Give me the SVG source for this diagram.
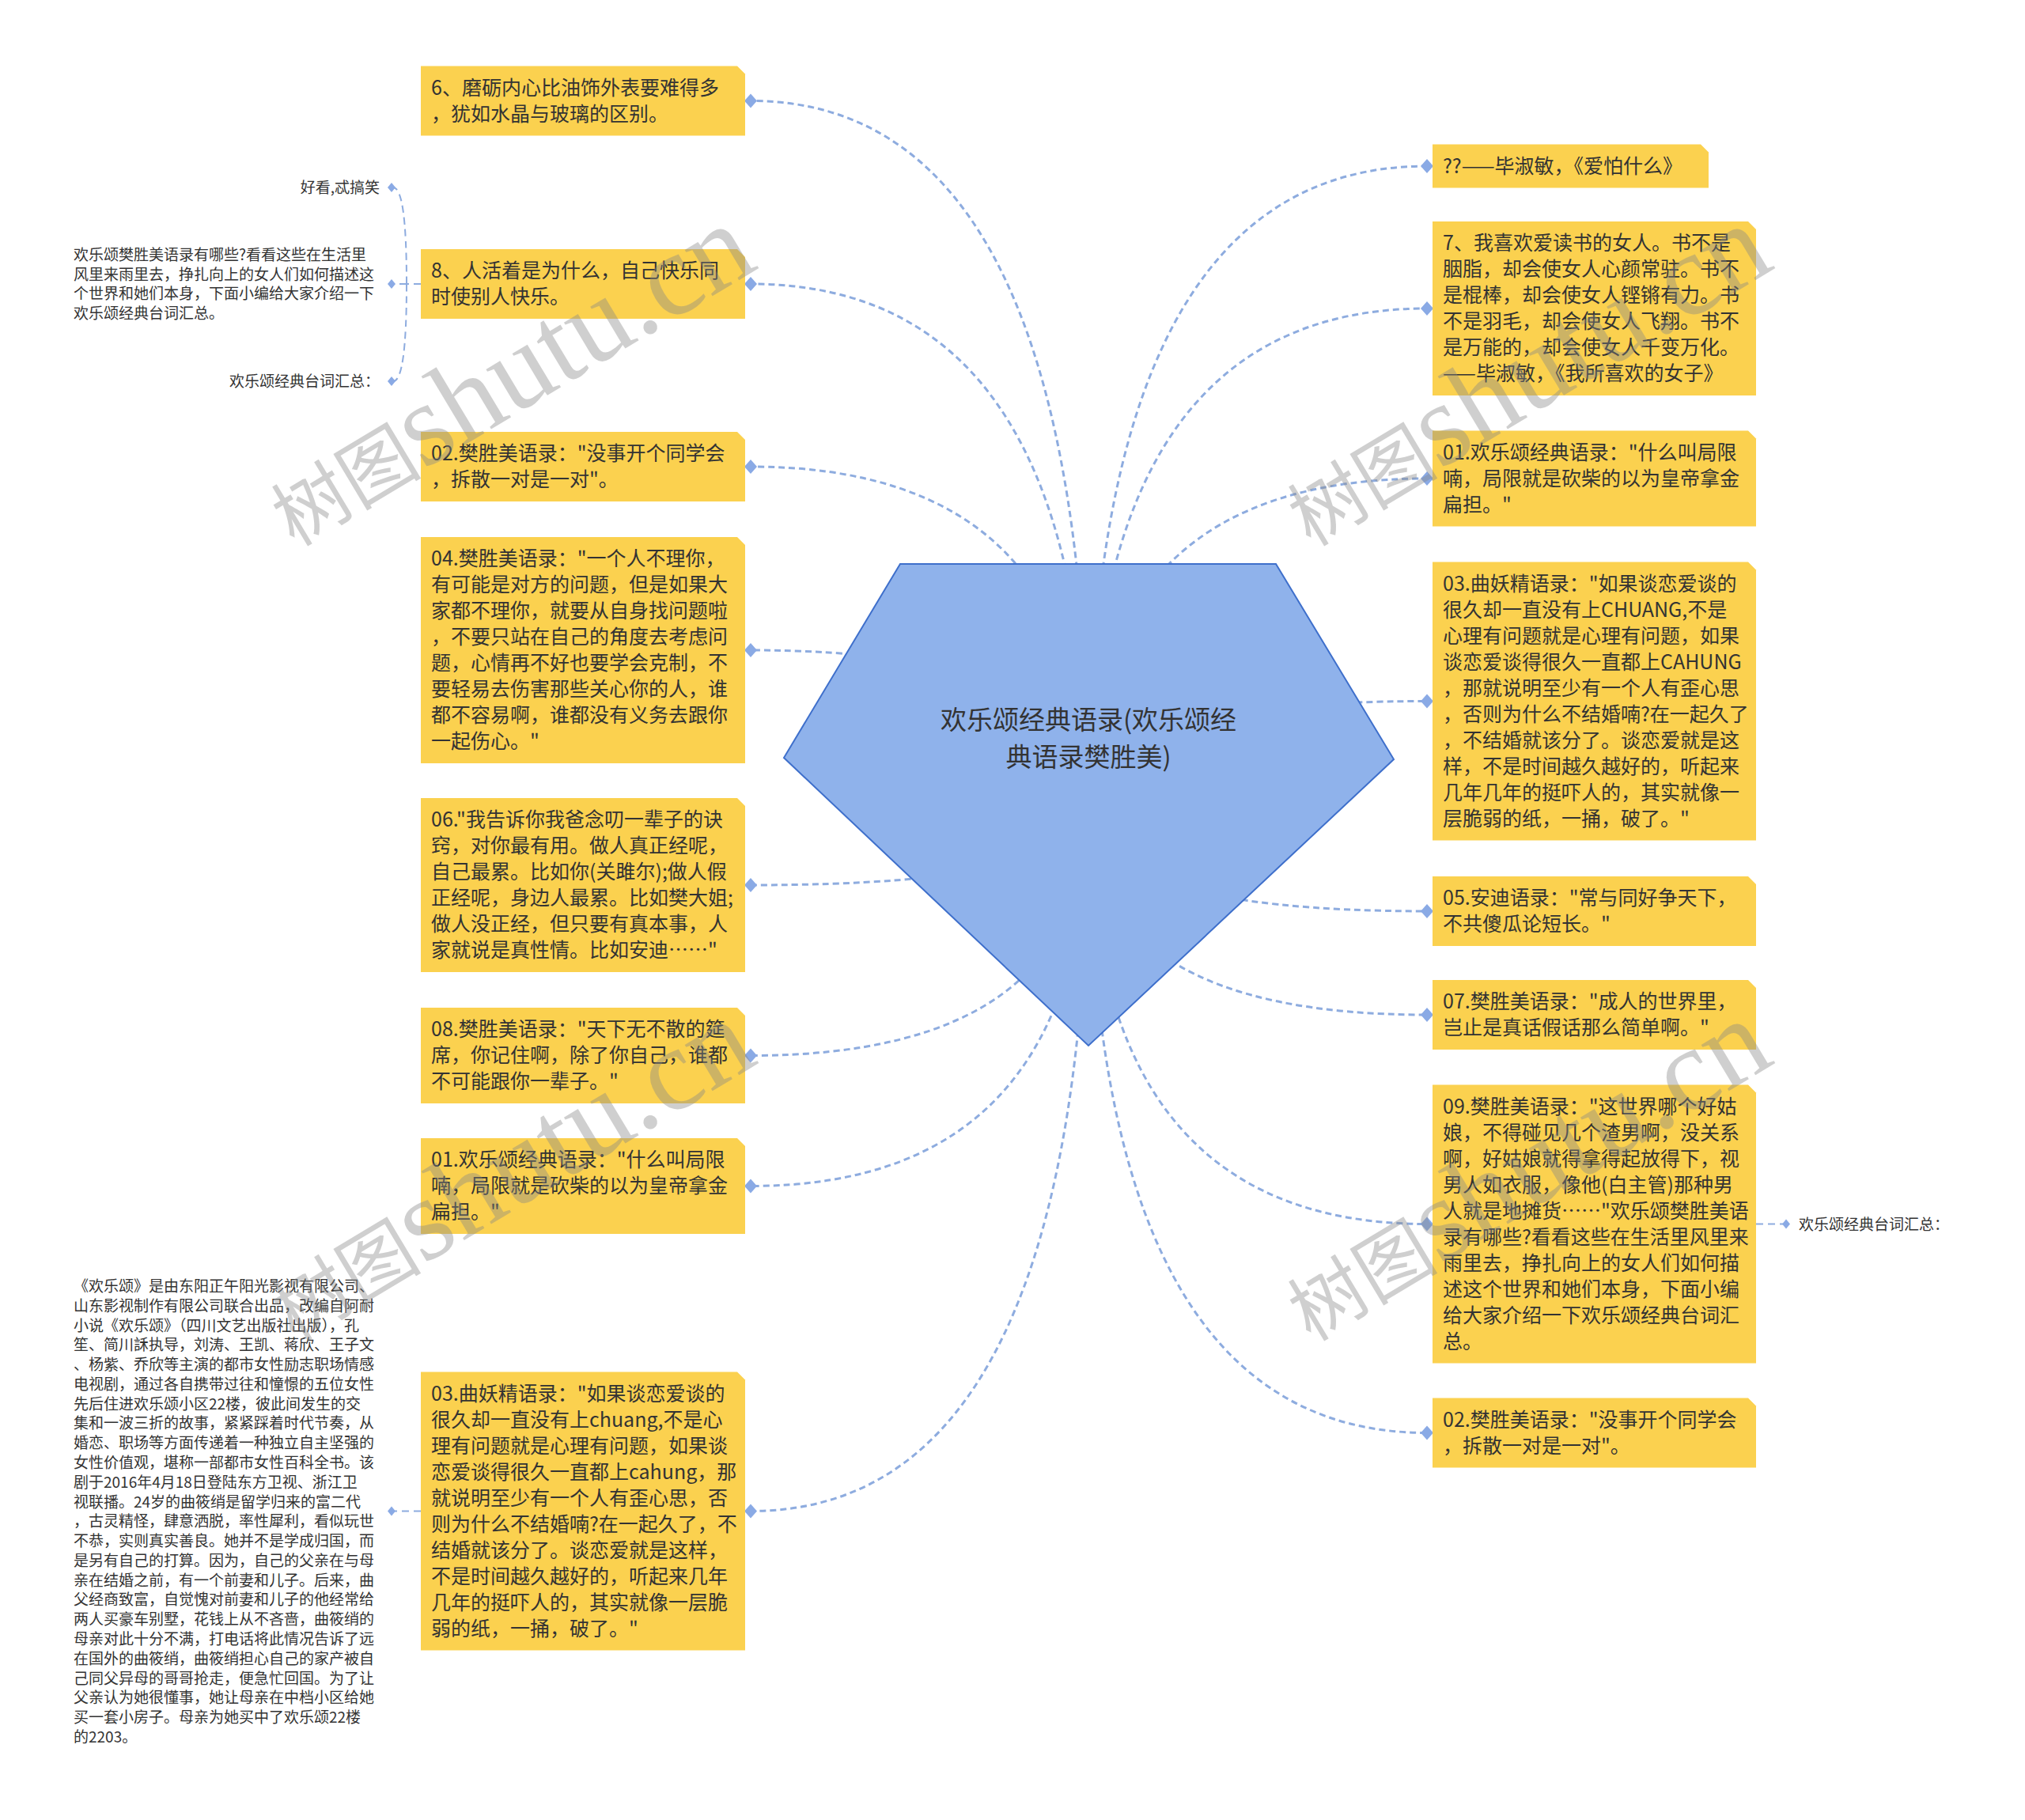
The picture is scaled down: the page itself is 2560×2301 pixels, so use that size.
<svg xmlns="http://www.w3.org/2000/svg" xmlns:xlink="http://www.w3.org/1999/xlink" width="2560" height="2301" viewBox="0 0 2560 2301">
<style>
.bg{fill:#ffffff}
.node{fill:#FBD14F}
.nt{font-family:"Noto Sans CJK SC","Noto Sans",sans-serif;font-size:25px;fill:#333333}
.lt{font-family:"Noto Sans CJK SC","Noto Sans",sans-serif;font-size:19px;fill:#333333}
.rt{font-family:"Noto Sans CJK SC","Noto Sans",sans-serif;font-size:33px;fill:#333333}
.con{fill:none;stroke:#8EACDF;stroke-width:3;stroke-dasharray:8 5}
.lcon{fill:none;stroke:#8EACDF;stroke-width:2;stroke-dasharray:9 6}
.dia{fill:#8AAAE5}
.wm{font-family:"Liberation Serif","Noto Sans CJK SC",serif;fill:#888888;fill-opacity:0.4}
</style>
<defs>
<path id="dm" d="M-8,0 L0,-9 L8,0 L0,9 Z"/>
<path id="ds" d="M-5,0 L0,-6 L5,0 L0,6 Z"/>
</defs>
<rect class="bg" x="0" y="0" width="2560" height="2301"/>

<g id="connectors">
<path class="con" d="M1376,1017 Q1376,127.5 949,127.5"/>
<path class="con" d="M1376,1017 Q1376,359 949,359"/>
<path class="con" d="M1376,1017 Q1376,590 949,590"/>
<path class="con" d="M1376,1017 Q1376,822 949,822"/>
<path class="con" d="M1376,1017 Q1376,1119 949,1119"/>
<path class="con" d="M1376,1017 Q1376,1334.5 949,1334.5"/>
<path class="con" d="M1376,1017 Q1376,1499.5 949,1499.5"/>
<path class="con" d="M1376,1017 Q1376,1910.5 949,1910.5"/>
<path class="con" d="M1376,1017 Q1376,210 1804,210"/>
<path class="con" d="M1376,1017 Q1376,390 1804,390"/>
<path class="con" d="M1376,1017 Q1376,605 1804,605"/>
<path class="con" d="M1376,1017 Q1376,886.5 1804,886.5"/>
<path class="con" d="M1376,1017 Q1376,1152 1804,1152"/>
<path class="con" d="M1376,1017 Q1376,1283 1804,1283"/>
<path class="con" d="M1376,1017 Q1376,1547.5 1804,1547.5"/>
<path class="con" d="M1376,1017 Q1376,1811.5 1804,1811.5"/>
<path class="lcon" d="M532,359 H514"/>
<path class="lcon" d="M514,359 Q514,237 497,237"/>
<path class="lcon" d="M514,359 H497"/>
<path class="lcon" d="M514,359 Q514,482 497,482"/>
<path class="lcon" d="M532,1910.5 H497"/>
<path class="lcon" d="M2220,1547.5 H2256"/>
<use class="dia" href="#dm" x="949" y="127.5"/>
<use class="dia" href="#dm" x="949" y="359"/>
<use class="dia" href="#dm" x="949" y="590"/>
<use class="dia" href="#dm" x="949" y="822"/>
<use class="dia" href="#dm" x="949" y="1119"/>
<use class="dia" href="#dm" x="949" y="1334.5"/>
<use class="dia" href="#dm" x="949" y="1499.5"/>
<use class="dia" href="#dm" x="949" y="1910.5"/>
<use class="dia" href="#dm" x="1804" y="210"/>
<use class="dia" href="#dm" x="1804" y="390"/>
<use class="dia" href="#dm" x="1804" y="605"/>
<use class="dia" href="#dm" x="1804" y="886.5"/>
<use class="dia" href="#dm" x="1804" y="1152"/>
<use class="dia" href="#dm" x="1804" y="1283"/>
<use class="dia" href="#dm" x="1804" y="1547.5"/>
<use class="dia" href="#dm" x="1804" y="1811.5"/>
<use class="dia" href="#ds" x="495" y="237"/>
<use class="dia" href="#ds" x="495" y="359"/>
<use class="dia" href="#ds" x="495" y="482"/>
<use class="dia" href="#ds" x="495" y="1910.5"/>
<use class="dia" href="#ds" x="2258" y="1547.5"/>
</g>

<g id="root">
<path d="M1138,713 L1613,713 L1762,960 L1376,1322 L991,958 Z" fill="#8FB2EB" stroke="#3E6FCB" stroke-width="2"/>
<text class="rt" text-anchor="middle"><tspan x="1376" y="922">欢乐颂经典语录(欢乐颂经</tspan><tspan x="1376" y="969">典语录樊胜美)</tspan></text>
</g>

<g id="n-l6">
<path class="node" d="M532,83.5 H932 L942,93.5 V171.5 H532 Z"/>
<text class="nt"><tspan x="545" y="119.5">6、磨砺内心比油饰外表要难得多</tspan><tspan x="545" dy="33">，犹如水晶与玻璃的区别。</tspan></text>
</g>
<g id="n-l8">
<path class="node" d="M532,315 H932 L942,325 V403 H532 Z"/>
<text class="nt"><tspan x="545" y="351">8、人活着是为什么，自己快乐同</tspan><tspan x="545" dy="33">时使别人快乐。</tspan></text>
</g>
<g id="n-l02">
<path class="node" d="M532,546 H932 L942,556 V634 H532 Z"/>
<text class="nt"><tspan x="545" y="582">02.樊胜美语录："没事开个同学会</tspan><tspan x="545" dy="33">，拆散一对是一对"。</tspan></text>
</g>
<g id="n-l04">
<path class="node" d="M532,679 H932 L942,689 V965 H532 Z"/>
<text class="nt"><tspan x="545" y="715">04.樊胜美语录："一个人不理你，</tspan><tspan x="545" dy="33">有可能是对方的问题，但是如果大</tspan><tspan x="545" dy="33">家都不理你，就要从自身找问题啦</tspan><tspan x="545" dy="33">，不要只站在自己的角度去考虑问</tspan><tspan x="545" dy="33">题，心情再不好也要学会克制，不</tspan><tspan x="545" dy="33">要轻易去伤害那些关心你的人，谁</tspan><tspan x="545" dy="33">都不容易啊，谁都没有义务去跟你</tspan><tspan x="545" dy="33">一起伤心。"</tspan></text>
</g>
<g id="n-l06">
<path class="node" d="M532,1009 H932 L942,1019 V1229 H532 Z"/>
<text class="nt"><tspan x="545" y="1045">06."我告诉你我爸念叨一辈子的诀</tspan><tspan x="545" dy="33">窍，对你最有用。做人真正经呢，</tspan><tspan x="545" dy="33">自己最累。比如你(关雎尔);做人假</tspan><tspan x="545" dy="33">正经呢，身边人最累。比如樊大姐;</tspan><tspan x="545" dy="33">做人没正经，但只要有真本事，人</tspan><tspan x="545" dy="33">家就说是真性情。比如安迪……"</tspan></text>
</g>
<g id="n-l08">
<path class="node" d="M532,1274 H932 L942,1284 V1395 H532 Z"/>
<text class="nt"><tspan x="545" y="1310">08.樊胜美语录："天下无不散的筵</tspan><tspan x="545" dy="33">席，你记住啊，除了你自己，谁都</tspan><tspan x="545" dy="33">不可能跟你一辈子。"</tspan></text>
</g>
<g id="n-l01">
<path class="node" d="M532,1439 H932 L942,1449 V1560 H532 Z"/>
<text class="nt"><tspan x="545" y="1475">01.欢乐颂经典语录："什么叫局限</tspan><tspan x="545" dy="33">喃，局限就是砍柴的以为皇帝拿金</tspan><tspan x="545" dy="33">扁担。"</tspan></text>
</g>
<g id="n-l03">
<path class="node" d="M532,1734.5 H932 L942,1744.5 V2086.5 H532 Z"/>
<text class="nt"><tspan x="545" y="1770.5">03.曲妖精语录："如果谈恋爱谈的</tspan><tspan x="545" dy="33">很久却一直没有上chuang,不是心</tspan><tspan x="545" dy="33">理有问题就是心理有问题，如果谈</tspan><tspan x="545" dy="33">恋爱谈得很久一直都上cahung，那</tspan><tspan x="545" dy="33">就说明至少有一个人有歪心思，否</tspan><tspan x="545" dy="33">则为什么不结婚喃?在一起久了，不</tspan><tspan x="545" dy="33">结婚就该分了。谈恋爱就是这样，</tspan><tspan x="545" dy="33">不是时间越久越好的，听起来几年</tspan><tspan x="545" dy="33">几年的挺吓人的，其实就像一层脆</tspan><tspan x="545" dy="33">弱的纸，一捅，破了。"</tspan></text>
</g>

<g id="n-r00">
<path class="node" d="M1811,182.5 H2150 L2160,192.5 V237.5 H1811 Z"/>
<text class="nt"><tspan x="1824" y="218.5">??——毕淑敏，《爱怕什么》</tspan></text>
</g>
<g id="n-r7">
<path class="node" d="M1811,280 H2210 L2220,290 V500 H1811 Z"/>
<text class="nt"><tspan x="1824" y="316">7、我喜欢爱读书的女人。书不是</tspan><tspan x="1824" dy="33">胭脂，却会使女人心颜常驻。书不</tspan><tspan x="1824" dy="33">是棍棒，却会使女人铿锵有力。书</tspan><tspan x="1824" dy="33">不是羽毛，却会使女人飞翔。书不</tspan><tspan x="1824" dy="33">是万能的，却会使女人千变万化。</tspan><tspan x="1824" dy="33">——毕淑敏，《我所喜欢的女子》</tspan></text>
</g>
<g id="n-r01">
<path class="node" d="M1811,544.5 H2210 L2220,554.5 V665.5 H1811 Z"/>
<text class="nt"><tspan x="1824" y="580.5">01.欢乐颂经典语录："什么叫局限</tspan><tspan x="1824" dy="33">喃，局限就是砍柴的以为皇帝拿金</tspan><tspan x="1824" dy="33">扁担。"</tspan></text>
</g>
<g id="n-r03">
<path class="node" d="M1811,710.5 H2210 L2220,720.5 V1062.5 H1811 Z"/>
<text class="nt"><tspan x="1824" y="746.5">03.曲妖精语录："如果谈恋爱谈的</tspan><tspan x="1824" dy="33">很久却一直没有上CHUANG,不是</tspan><tspan x="1824" dy="33">心理有问题就是心理有问题，如果</tspan><tspan x="1824" dy="33">谈恋爱谈得很久一直都上CAHUNG</tspan><tspan x="1824" dy="33">，那就说明至少有一个人有歪心思</tspan><tspan x="1824" dy="33">，否则为什么不结婚喃?在一起久了</tspan><tspan x="1824" dy="33">，不结婚就该分了。谈恋爱就是这</tspan><tspan x="1824" dy="33">样，不是时间越久越好的，听起来</tspan><tspan x="1824" dy="33">几年几年的挺吓人的，其实就像一</tspan><tspan x="1824" dy="33">层脆弱的纸，一捅，破了。"</tspan></text>
</g>
<g id="n-r05">
<path class="node" d="M1811,1108 H2210 L2220,1118 V1196 H1811 Z"/>
<text class="nt"><tspan x="1824" y="1144">05.安迪语录："常与同好争天下，</tspan><tspan x="1824" dy="33">不共傻瓜论短长。"</tspan></text>
</g>
<g id="n-r07">
<path class="node" d="M1811,1239 H2210 L2220,1249 V1327 H1811 Z"/>
<text class="nt"><tspan x="1824" y="1275">07.樊胜美语录："成人的世界里，</tspan><tspan x="1824" dy="33">岂止是真话假话那么简单啊。"</tspan></text>
</g>
<g id="n-r09">
<path class="node" d="M1811,1371.5 H2210 L2220,1381.5 V1723.5 H1811 Z"/>
<text class="nt"><tspan x="1824" y="1407.5">09.樊胜美语录："这世界哪个好姑</tspan><tspan x="1824" dy="33">娘，不得碰见几个渣男啊，没关系</tspan><tspan x="1824" dy="33">啊，好姑娘就得拿得起放得下，视</tspan><tspan x="1824" dy="33">男人如衣服，像他(白主管)那种男</tspan><tspan x="1824" dy="33">人就是地摊货……"欢乐颂樊胜美语</tspan><tspan x="1824" dy="33">录有哪些?看看这些在生活里风里来</tspan><tspan x="1824" dy="33">雨里去，挣扎向上的女人们如何描</tspan><tspan x="1824" dy="33">述这个世界和她们本身，下面小编</tspan><tspan x="1824" dy="33">给大家介绍一下欢乐颂经典台词汇</tspan><tspan x="1824" dy="33">总。</tspan></text>
</g>
<g id="n-r02">
<path class="node" d="M1811,1767.5 H2210 L2220,1777.5 V1855.5 H1811 Z"/>
<text class="nt"><tspan x="1824" y="1803.5">02.樊胜美语录："没事开个同学会</tspan><tspan x="1824" dy="33">，拆散一对是一对"。</tspan></text>
</g>

<g id="leaf-a">
<text class="lt" x="480" y="244" text-anchor="end">好看,忒搞笑</text>
</g>
<g id="leaf-b">
<text class="lt"><tspan x="93" y="329">欢乐颂樊胜美语录有哪些?看看这些在生活里</tspan><tspan x="93" dy="24.5">风里来雨里去，挣扎向上的女人们如何描述这</tspan><tspan x="93" dy="24.5">个世界和她们本身，下面小编给大家介绍一下</tspan><tspan x="93" dy="24.5">欢乐颂经典台词汇总。</tspan></text>
</g>
<g id="leaf-c">
<text class="lt" x="480" y="489" text-anchor="end">欢乐颂经典台词汇总：</text>
</g>
<g id="leaf-d">
<text class="lt"><tspan x="93" y="1633">《欢乐颂》是由东阳正午阳光影视有限公司、</tspan><tspan x="93" dy="24.78">山东影视制作有限公司联合出品，改编自阿耐</tspan><tspan x="93" dy="24.78">小说《欢乐颂》（四川文艺出版社出版），孔</tspan><tspan x="93" dy="24.78">笙、简川訸执导，刘涛、王凯、蒋欣、王子文</tspan><tspan x="93" dy="24.78">、杨紫、乔欣等主演的都市女性励志职场情感</tspan><tspan x="93" dy="24.78">电视剧，通过各自携带过往和憧憬的五位女性</tspan><tspan x="93" dy="24.78">先后住进欢乐颂小区22楼，彼此间发生的交</tspan><tspan x="93" dy="24.78">集和一波三折的故事，紧紧踩着时代节奏，从</tspan><tspan x="93" dy="24.78">婚恋、职场等方面传递着一种独立自主坚强的</tspan><tspan x="93" dy="24.78">女性价值观，堪称一部都市女性百科全书。该</tspan><tspan x="93" dy="24.78">剧于2016年4月18日登陆东方卫视、浙江卫</tspan><tspan x="93" dy="24.78">视联播。24岁的曲筱绡是留学归来的富二代</tspan><tspan x="93" dy="24.78">，古灵精怪，肆意洒脱，率性犀利，看似玩世</tspan><tspan x="93" dy="24.78">不恭，实则真实善良。她并不是学成归国，而</tspan><tspan x="93" dy="24.78">是另有自己的打算。因为，自己的父亲在与母</tspan><tspan x="93" dy="24.78">亲在结婚之前，有一个前妻和儿子。后来，曲</tspan><tspan x="93" dy="24.78">父经商致富，自觉愧对前妻和儿子的他经常给</tspan><tspan x="93" dy="24.78">两人买豪车别墅，花钱上从不吝啬，曲筱绡的</tspan><tspan x="93" dy="24.78">母亲对此十分不满，打电话将此情况告诉了远</tspan><tspan x="93" dy="24.78">在国外的曲筱绡，曲筱绡担心自己的家产被自</tspan><tspan x="93" dy="24.78">己同父异母的哥哥抢走，便急忙回国。为了让</tspan><tspan x="93" dy="24.78">父亲认为她很懂事，她让母亲在中档小区给她</tspan><tspan x="93" dy="24.78">买一套小房子。母亲为她买中了欢乐颂22楼</tspan><tspan x="93" dy="24.78">的2203。</tspan></text>
</g>
<g id="leaf-e">
<text class="lt" x="2274" y="1555">欢乐颂经典台词汇总：</text>
</g>

<g id="watermark">
<text class="wm" transform="translate(372,692) rotate(-31)"><tspan font-size="95" font-family="Noto Sans CJK SC,sans-serif">树图</tspan><tspan font-size="148">shutu.cn</tspan></text>
<text class="wm" transform="translate(1657,692) rotate(-31)"><tspan font-size="95" font-family="Noto Sans CJK SC,sans-serif">树图</tspan><tspan font-size="148">shutu.cn</tspan></text>
<text class="wm" transform="translate(372,1697) rotate(-31)"><tspan font-size="95" font-family="Noto Sans CJK SC,sans-serif">树图</tspan><tspan font-size="148">shutu.cn</tspan></text>
<text class="wm" transform="translate(1657,1697) rotate(-31)"><tspan font-size="95" font-family="Noto Sans CJK SC,sans-serif">树图</tspan><tspan font-size="148">shutu.cn</tspan></text>
</g>
</svg>
